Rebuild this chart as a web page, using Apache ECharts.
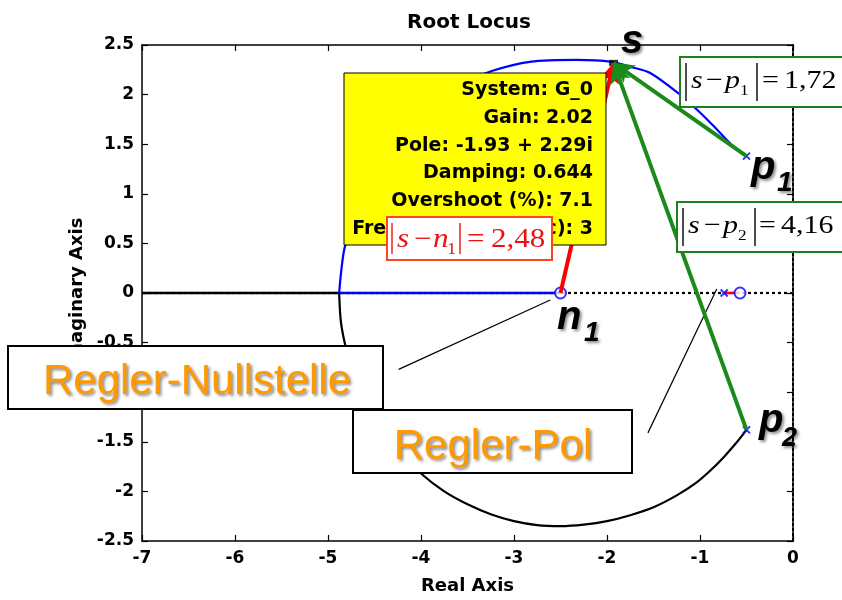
<!DOCTYPE html>
<html><head><meta charset="utf-8">
<script src="https://cdn.jsdelivr.net/npm/echarts@6/dist/echarts.min.js"></script>
<style>html,body{margin:0;padding:0;background:#fff}#c{width:842px;height:600px}</style>
</head><body><div id="c"></div>
<script>
// ---------- data ----------
const chartTitle = 'Root Locus';
const xName = 'Real Axis';
const yName = 'Imaginary Axis';
const xMin = -7, xMax = 0, xStep = 1;
const yMin = -2.5, yMax = 2.5, yStep = 0.5;

// upper branch (blue) from pole p1 to break-in point
const upperBranch = [[-0.50,1.38],[-0.645,1.48],[-0.82,1.65],[-1.00,1.82],[-1.215,2.00],[-1.54,2.22],[-1.75,2.28],[-1.95,2.33],[-2.32,2.35],[-2.83,2.33],[-3.23,2.24],[-3.50,2.13],[-3.75,1.98],[-4.00,1.80],[-4.25,1.55],[-4.50,1.20],[-4.68,0.85],[-4.82,0.46],[-4.86,0.20],[-4.88,0.00]];
// lower branch (black) from pole p2 to break-in point
const lowerBranch = [[-0.50,-1.38],[-0.60,-1.50],[-0.75,-1.66],[-0.90,-1.80],[-1.05,-1.92],[-1.25,-2.04],[-1.50,-2.16],[-1.75,-2.24],[-2.00,-2.30],[-2.25,-2.335],[-2.50,-2.35],[-2.75,-2.34],[-3.00,-2.30],[-3.25,-2.23],[-3.50,-2.13],[-3.75,-2.00],[-4.00,-1.82],[-4.25,-1.58],[-4.50,-1.25],[-4.70,-0.88],[-4.80,-0.58],[-4.86,-0.30],[-4.88,0.00]];
const realBlack = [[-7,0],[-4.88,0]];
const realBlue = [[-4.88,0],[-2.5,0]];
const realDotted = [[-7,0],[0,0]];
const realRed = [[-0.74,0],[-0.57,0]];
const poles = [[-0.5,1.38],[-0.5,-1.38],[-0.74,0]];
const zeros = [[-2.5,0],[-0.57,0]];
const sPoint = [-1.93,2.32];
const n1 = [-2.5,0], p1 = [-0.5,1.38], p2 = [-0.5,-1.38];
const datatipLines = ['System: G_0','Gain: 2.02','Pole: -1.93 + 2.29i','Damping: 0.644','Overshoot (%): 7.1','Frequency (rad/sec): 3'];
const calloutNull = [[-4.24,-0.77],[-2.61,-0.07]];
const calloutPol = [[-1.56,-1.41],[-0.82,0.04]];
const distN1 = '2,48', distP1 = '1,72', distP2 = '4,16';

// ---------- helpers ----------
const BOLD = '"DejaVu Sans", sans-serif';
function T(x, y, text, font, fill, align, z, extra) {
  return Object.assign({type:'text', x:x, y:y, z:z||30, silent:true,
    style:{text:text, font:font, fill:fill, align:align||'left', verticalAlign:'middle'}}, extra||{});
}
function R(x, y, w, h, fill, stroke, lw, z) {
  return {type:'rect', z:z||30, silent:true, shape:{x:x,y:y,width:w,height:h}, style:{fill:fill, stroke:stroke, lineWidth:lw}};
}
function L(x1, y1, x2, y2, stroke, lw, z) {
  return {type:'line', z:z||31, silent:true, shape:{x1:x1,y1:y1,x2:x2,y2:y2}, style:{stroke:stroke, lineWidth:lw}};
}
const SX = {scaleX:1.15};
function mathBox(b) {
  const els = [];
  const f = b.size + 'px "Liberation Serif", serif';
  const fi = 'italic ' + f;
  const fs = b.sub + 'px "Liberation Serif", serif';
  const mid = b.base - 0.3375*b.size, smid = b.base + 6 - 0.3375*b.sub;
  els.push(R(b.rx, b.ry, b.rw, b.rh, '#fff', b.border, 2, 40));
  els.push(L(b.bar1, b.ry+6, b.bar1, b.ry+b.rh-6, b.color, 1.4, 41));
  els.push(L(b.bar2, b.ry+6, b.bar2, b.ry+b.rh-6, b.color, 1.4, 41));
  els.push(T(b.xs, mid, 's', fi, b.color, 'left', 41, SX));
  els.push(T(b.xm, mid, '\u2212', f, b.color, 'left', 41, SX));
  els.push(T(b.xv, mid, b.v, fi, b.color, 'left', 41, SX));
  els.push(T(b.xsub, smid, b.subTxt, fs, b.color, 'left', 41, SX));
  els.push(T(b.xe, mid, '=', f, b.color, 'left', 41, SX));
  els.push(T(b.xn, mid, b.val, f, b.color, 'left', 41, SX));
  return els;
}
const shadow = {textShadowColor:'rgba(0,0,0,0.45)', textShadowBlur:3, textShadowOffsetX:2, textShadowOffsetY:2};
function bigLabel(x, y, t, size) {
  const e = T(x, y, t, 'italic bold ' + size + 'px "Liberation Sans", Arial, sans-serif', '#000', 'left', 45);
  Object.assign(e.style, shadow);
  return e;
}
function callout(x, y, t) {
  const e = T(x, y, t, '42px "Liberation Sans", Arial, sans-serif', '#ff9900', 'center', 41);
  Object.assign(e.style, shadow);
  return e;
}

// ---------- graphic overlay ----------
const graphics = [];
// data tip (yellow)
graphics.push(R(344, 73, 262, 172, '#ffff00', '#000', 1, 10));
datatipLines.forEach((s, i) => graphics.push(T(593, 90 + 27.8*i, s, 'bold 19px ' + BOLD, '#000', 'right', 11)));
// math boxes
mathBox({rx:387, ry:217, rw:165, rh:43, border:'#ff4422', color:'#ee1111', size:27, sub:16, base:249,
  bar1:392, bar2:460, xs:397, xm:414, xv:433, v:'n', xsub:447, subTxt:'1', xe:467, xn:491, val:distN1}).forEach(e => graphics.push(e));
mathBox({rx:680, ry:57, rw:175, rh:50, border:'#1e7f1e', color:'#000', size:26, sub:15, base:90,
  bar1:686, bar2:757, xs:691, xm:706, xv:725, v:'p', xsub:740, subTxt:'1', xe:762, xn:784, val:distP1}).forEach(e => graphics.push(e));
mathBox({rx:677, ry:202, rw:175, rh:50, border:'#1e7f1e', color:'#000', size:26, sub:15, base:235,
  bar1:683, bar2:755, xs:688, xm:704, xv:723, v:'p', xsub:738, subTxt:'2', xe:759, xn:781, val:distP2}).forEach(e => graphics.push(e));
// callout boxes
graphics.push(R(8, 346, 375, 63, '#fff', '#000', 2, 40));
graphics.push(callout(197, 382.5, 'Regler-Nullstelle'));
graphics.push(R(353, 410, 279, 63, '#fff', '#000', 2, 40));
graphics.push(callout(493, 447.5, 'Regler-Pol'));
// point labels
graphics.push(bigLabel(621, 42, 's', 40));
graphics.push(bigLabel(751, 168, 'p', 40));
graphics.push(bigLabel(777, 183, '1', 28));
graphics.push(bigLabel(759, 421, 'p', 40));
graphics.push(bigLabel(782, 439, '2', 27));
graphics.push(bigLabel(557, 318, 'n', 40));
graphics.push(bigLabel(584, 333, '1', 28));

// ---------- chart ----------
const axisFont = {color:'#000', fontFamily:'DejaVu Sans', fontWeight:'bold', fontSize:17};
const nameFont = {color:'#000', fontFamily:'DejaVu Sans', fontWeight:'bold', fontSize:18};
const tickStyle = {color:'#000', width:1.2};
function lineSeries(data, color, width, type, z) {
  return {type:'line', data:data, symbol:'none', silent:true, z:z||2,
    lineStyle:{color:color, width:width, type:type||'solid'}, animation:false};
}
const chart = echarts.init(document.getElementById('c'), null, {renderer:'canvas'});
chart.setOption({
  animation:false,
  backgroundColor:'#fff',
  title:{text:chartTitle, left:464, top:8, textAlign:'center',
    textStyle:{color:'#000', fontFamily:'DejaVu Sans', fontWeight:'bold', fontSize:20}},
  grid:{left:142, right:49, top:45, bottom:57, containLabel:false},
  xAxis:[
    {type:'value', min:xMin, max:xMax, interval:xStep, position:'bottom',
     axisLine:{show:true, onZero:false, lineStyle:{color:'#000', width:1.5}},
     axisTick:{inside:true, length:6, lineStyle:tickStyle},
     axisLabel:Object.assign({margin:9}, axisFont), splitLine:{show:false},
     name:xName, nameLocation:'middle', nameGap:36, nameTextStyle:nameFont},
    {type:'value', min:xMin, max:xMax, interval:xStep, position:'top',
     axisLine:{show:true, onZero:false, lineStyle:{color:'#000', width:1.5}},
     axisTick:{inside:true, length:6, lineStyle:tickStyle},
     axisLabel:{show:false}, splitLine:{show:false}}
  ],
  yAxis:[
    {type:'value', min:yMin, max:yMax, interval:yStep, position:'left',
     axisLine:{show:true, onZero:false, lineStyle:{color:'#000', width:1.5}},
     axisTick:{inside:true, length:6, lineStyle:tickStyle},
     axisLabel:Object.assign({margin:8}, axisFont), splitLine:{show:false},
     name:yName, nameLocation:'middle', nameGap:50, nameTextStyle:nameFont},
    {type:'value', min:yMin, max:yMax, interval:yStep, position:'right',
     axisLine:{show:true, onZero:false, lineStyle:{color:'#000', width:2, type:[3,2]}},
     axisTick:{inside:true, length:6, lineStyle:tickStyle},
     axisLabel:{show:false}, splitLine:{show:false}}
  ],
  series:[
    lineSeries(realDotted, '#000', 2.2, [3,3], 1),
    lineSeries(realBlack, '#000', 2.5, 'solid', 2),
    lineSeries(realBlue, '#0000ff', 2.5, 'solid', 2),
    Object.assign(lineSeries(upperBranch, '#0000ff', 2.2, 'solid', 2), {smooth:0.3}),
    Object.assign(lineSeries(lowerBranch, '#000', 2.2, 'solid', 2), {smooth:0.3}),
    lineSeries(realRed, '#ff0000', 2.5, 'solid', 3),
    {type:'scatter', data:poles, z:4, silent:true, symbol:'path://M0,0L10,10M10,0L0,10', symbolSize:7,
     itemStyle:{color:'#0000ff', borderColor:'#0000ff', borderWidth:2}},
    {type:'scatter', data:zeros, z:4, silent:true, symbol:'emptyCircle', symbolSize:11,
     itemStyle:{color:'#0000ff', borderColor:'#0000ff', borderWidth:2}},
    {type:'scatter', data:[sPoint], z:4, silent:true, symbol:'rect', symbolSize:[9,6],
     itemStyle:{color:'#000'}},
    // callout pointer lines
    {type:'line', data:[], z:35, silent:true,
     markLine:{silent:true, animation:false, symbol:['none','none'], label:{show:false},
       lineStyle:{color:'#000', width:1.2, type:'solid'},
       data:[[{coord:calloutNull[0]},{coord:calloutNull[1]}],[{coord:calloutPol[0]},{coord:calloutPol[1]}]]}},
    // distance arrows
    {type:'line', data:[], z:20, silent:true,
     markLine:{silent:true, animation:false, symbol:['none','arrow'], symbolSize:[16,20], label:{show:false},
       lineStyle:{width:4, type:'solid'},
       data:[
         [{coord:n1, lineStyle:{color:'#ff0000'}, itemStyle:{color:'#ff0000'}},{coord:sPoint}],
         [{coord:p1, lineStyle:{color:'#1a8a1a'}, itemStyle:{color:'#1a8a1a'}},{coord:sPoint}],
         [{coord:p2, lineStyle:{color:'#1a8a1a'}, itemStyle:{color:'#1a8a1a'}},{coord:sPoint}]
       ]}}
  ],
  graphic:{elements:graphics}
});
</script></body></html>
